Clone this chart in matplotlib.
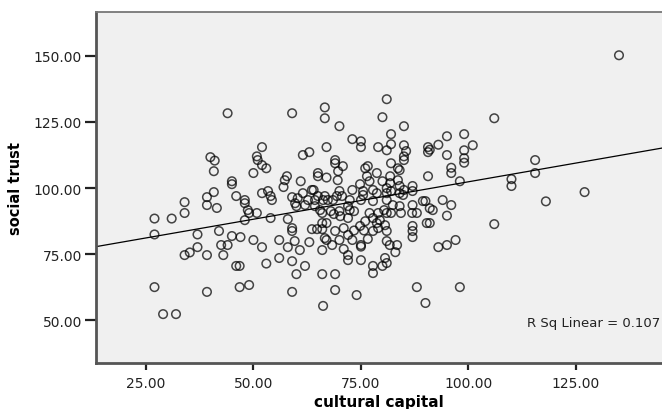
import matplotlib
matplotlib.use('Agg')
import matplotlib.pyplot as plt
import numpy as np

# cultural capital (x) and social trust (y)
cultural_capital = [
    27, 31, 34, 27, 37, 42, 34, 35.2, 37, 39.2, 43, 42.5, 44, 45, 47, 27, 39.2, 29, 32, 34,
    39.2, 39.2, 41.5, 40.8, 40, 41, 40.8, 44, 45, 45, 46, 48, 48, 48.7, 49, 50.8, 48, 50, 52, 46,
    46.8, 53, 56, 56, 58, 54, 59, 59, 58, 59.6, 60.8, 59, 60, 59, 46.8, 49, 52, 50.8, 51, 52,
    53, 50, 52, 53.4, 54, 54.3, 57.8, 57.3, 57, 59, 61, 61.5, 63, 65, 65, 64, 59, 60.3, 61.5, 62.7,
    64.3, 65, 63.6, 66.2, 59.7, 62, 64.3, 60, 66, 66.6, 66.6, 67, 67, 66.6, 67.3, 65.5, 68, 70, 69, 69,
    70.8, 69.7, 69.6, 70, 69.4, 70.6, 68.5, 68.7, 70.2, 63.6, 64.8, 66, 66, 67, 66.6, 69, 71, 72, 73, 67,
    68.3, 70, 71, 72, 72, 66, 63, 62, 66, 69, 69, 66.2, 70, 73, 75, 75, 79, 82, 85, 81,
    85.5, 85, 85, 76, 76.6, 82, 83.6, 84, 78.7, 81.8, 76.4, 77, 80, 74.8, 83.6, 87, 81.8, 73, 75.5, 75.5,
    77.8, 78.7, 81, 81, 82, 84, 85, 87, 84, 84.8, 72.4, 72, 75, 77.8, 81, 82.4, 84, 87, 89.4, 72.4,
    73.4, 77, 79, 81, 82, 84.3, 86.9, 88, 80.4, 81, 80, 85, 82, 74.8, 75, 75, 76.6, 75, 77.8, 78.7,
    79.4, 80.6, 81, 77.8, 81, 81.7, 83.4, 80.6, 81, 80, 77.8, 77.8, 83, 87, 87, 87, 90.3, 72, 74, 88,
    90, 73.4, 75.7, 79, 76, 90.6, 90.6, 93, 95, 99, 95, 99, 99, 99, 96, 96, 90.6, 98, 101, 106,
    110, 110, 115.5, 115.5, 118, 127, 135, 94, 96, 90, 91, 91.7, 95, 91, 106, 93, 95, 97, 98, 91,
]
social_trust = [
    88.5, 88.5, 90.6, 82.5, 82.5, 83.8, 74.7, 75.7, 77.7, 74.7, 74.7, 78.5, 78.5, 81.9, 81.5, 62.6, 60.8, 52.4, 52.4, 94.7,
    96.6, 93.6, 92.5, 98.5, 111.7, 110.4, 106.4, 128.3, 102.6, 101.5, 97, 95.5, 94.3, 91.7, 90.6, 90.6, 87.9, 80.4, 77.7, 70.6,
    70.6, 71.5, 73.6, 80.4, 88.3, 88.7, 84.9, 83.8, 77.7, 80, 76.6, 72.4, 67.5, 60.8, 62.6, 63.4, 115.5, 112, 110.6, 108.7,
    107.5, 105.7, 98.1, 98.9, 97, 95.5, 104.5, 103, 100.4, 128.3, 102.6, 112.5, 113.6, 105.7, 104.5, 99.3, 96.6, 96.2, 98.1, 95.5,
    95.5, 97, 99.3, 95.5, 94.3, 93.6, 93.2, 93.2, 90.6, 130.5, 126.4, 115.5, 104, 97, 95.5, 91.7, 91.3, 91.3, 110.6, 109.4,
    108.3, 106.4, 103, 98.9, 97, 97, 95.5, 90.2, 89.4, 84.5, 84.5, 84.5, 86.8, 86.8, 81.1, 83.8, 84.9, 82.3, 80.4, 80.4,
    78.5, 80.4, 77, 74.7, 72.8, 76.6, 79.6, 70.6, 67.5, 67.5, 61.5, 55.5, 123.4, 118.5, 117.7, 115.5, 115.5, 116.6, 116.2, 114.3,
    114, 112, 110.6, 107.5, 108.3, 109.4, 107.5, 106.8, 105.7, 104.5, 104.5, 102.6, 102.6, 101.5, 103, 100.8, 101.9, 99.3, 98.9, 97.4,
    99.3, 98.1, 100, 98.1, 98.9, 100.8, 99.3, 98.9, 98.1, 97.4, 95.5, 93.2, 95.5, 95.1, 95.5, 93.6, 93.2, 93.6, 95.1, 91.7,
    91.3, 90.6, 90.6, 90.6, 90.6, 90.6, 90.6, 90.6, 91.7, 133.6, 126.8, 123.4, 120.4, 85.7, 78.5, 77.9, 80.8, 72.8, 88.7, 86.8,
    87.9, 86, 83.8, 83.8, 80, 78.5, 78.5, 73.6, 71.7, 70.6, 70.6, 67.9, 75.8, 85.7, 83.8, 81.5, 86.8, 88.7, 59.6, 62.6,
    56.6, 84, 84, 84.9, 87.5, 115.5, 113.6, 116.4, 119.6, 120.4, 112.5, 114.3, 111.3, 109.6, 107.7, 105.7, 104.5, 102.6, 116.2, 126.4,
    103.4, 100.8, 110.6, 105.7, 95, 98.5, 150.2, 95.5, 93.6, 95.1, 92.4, 91.7, 89.6, 86.8, 86.4, 77.7, 78.5, 80.4, 62.6, 114.5,
]

# linear fit line shown in the chart
fit_intercept = 74.1
fit_slope = 0.283
r_sq = 0.107

x_ticks = [25, 50, 75, 100, 125]
y_ticks = [50, 75, 100, 125, 150]

plt.rcParams['font.family'] = ['DejaVu Sans']

fig = plt.figure(figsize=(6.62, 4.10), dpi=100)
ax = fig.add_axes([0.145, 0.112, 0.855, 0.856])
ax.set_facecolor('#f0f0f0')

ax.scatter(cultural_capital, social_trust, s=38, facecolors='none',
           edgecolors='black', linewidths=1.1, alpha=0.72, zorder=3)

xlim = (13.4, 145)
xs = np.array(xlim)
ax.plot(xs, fit_intercept + fit_slope * xs, color='black', linewidth=0.9, zorder=2)

ax.set_xlim(xlim)
ax.set_ylim(33.9, 166.5)
ax.set_xticks(x_ticks)
ax.set_yticks(y_ticks)
ax.set_xticklabels(['%.2f' % v for v in x_ticks])
ax.set_yticklabels(['%.2f' % v for v in y_ticks])
ax.tick_params(axis='both', labelsize=10, colors='#222222', width=1.6)
ax.tick_params(axis='y', length=8, pad=2)
ax.tick_params(axis='x', length=5, pad=4)

for side in ['left', 'bottom']:
    ax.spines[side].set_linewidth(2)
    ax.spines[side].set_color('#555555')
ax.spines['top'].set_linewidth(1.3)
ax.spines['top'].set_color('#777777')
ax.spines['right'].set_visible(False)

ax.set_xlabel('cultural capital', fontsize=11, fontweight='bold', labelpad=3)
ax.set_ylabel('social trust', fontsize=10.5, fontweight='bold', labelpad=8)

ax.text(0.997, 0.115, 'R Sq Linear = %.3f' % r_sq, transform=ax.transAxes,
        ha='right', va='center', fontsize=9.5, color='#222222')

fig.savefig('out.png', dpi=100)
